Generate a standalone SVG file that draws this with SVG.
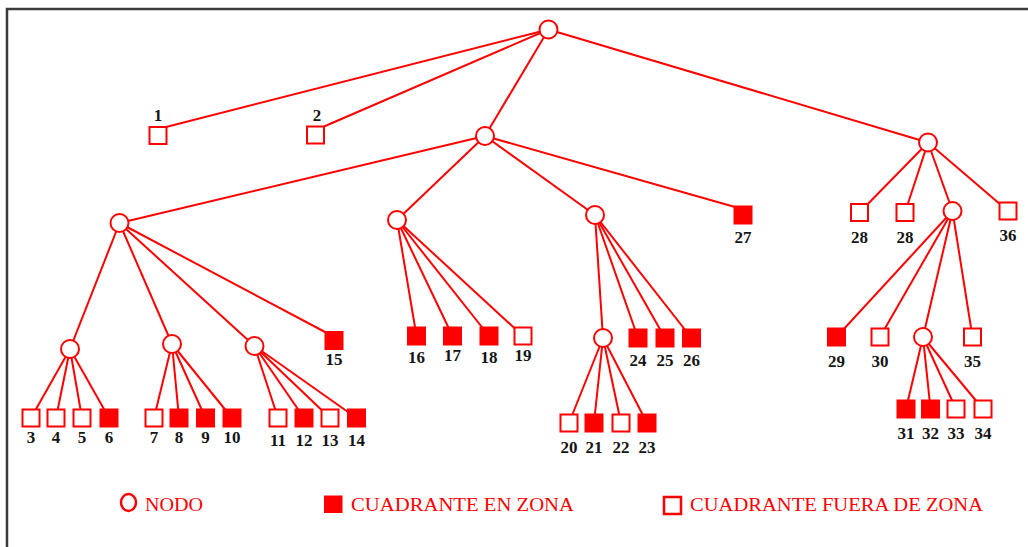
<svg xmlns="http://www.w3.org/2000/svg" width="1028" height="547" viewBox="0 0 1028 547">
  <style>
    .edge { stroke: #ff0000; stroke-width: 2; fill: none; }
    .node { fill: #ffffff; stroke: #ff0000; stroke-width: 2; }
    .in { fill: #ff0000; stroke: #ff0000; stroke-width: 2; }
    .out { fill: #ffffff; stroke: #ff0000; stroke-width: 2; }
    .lbl { font-family: "Liberation Serif", "Times New Roman", serif; font-weight: bold; font-size: 17px; text-anchor: middle; fill: #151515; }
    .key { font-family: "Liberation Serif", "Times New Roman", serif; font-size: 18px; fill: #ff0000; }
  </style>

  <rect x="0" y="0" width="1028" height="547" fill="#ffffff"/>
  <!-- frame -->
  <path d="M7 547 V9 H1028" fill="none" stroke="#3c3c3c" stroke-width="2.5"/>

  <!-- connectors -->
  <g id="connectors">
    <!-- root -->
    <line class="edge" x1="548.5" y1="29.5" x2="166" y2="127"/>
    <line class="edge" x1="548.5" y1="29.5" x2="324" y2="126.5"/>
    <line class="edge" x1="548.5" y1="29.5" x2="485" y2="136"/>
    <line class="edge" x1="548.5" y1="29.5" x2="928" y2="142.5"/>
    <!-- A -->
    <line class="edge" x1="485" y1="136" x2="119.5" y2="223"/>
    <line class="edge" x1="485" y1="136" x2="397" y2="220"/>
    <line class="edge" x1="485" y1="136" x2="595" y2="215"/>
    <line class="edge" x1="485" y1="136" x2="735" y2="207"/>
    <!-- L1 -->
    <line class="edge" x1="119.5" y1="223" x2="70" y2="349"/>
    <line class="edge" x1="119.5" y1="223" x2="172" y2="344"/>
    <line class="edge" x1="119.5" y1="223" x2="254.5" y2="346"/>
    <line class="edge" x1="119.5" y1="223" x2="326" y2="332.5"/>
    <!-- L3a -->
    <line class="edge" x1="70" y1="349" x2="31" y2="418"/>
    <line class="edge" x1="70" y1="349" x2="56" y2="418"/>
    <line class="edge" x1="70" y1="349" x2="82" y2="418"/>
    <line class="edge" x1="70" y1="349" x2="109" y2="418"/>
    <!-- L3b -->
    <line class="edge" x1="172" y1="344" x2="154" y2="418"/>
    <line class="edge" x1="172" y1="344" x2="179" y2="418"/>
    <line class="edge" x1="172" y1="344" x2="205.5" y2="418"/>
    <line class="edge" x1="172" y1="344" x2="232" y2="418"/>
    <!-- L3c -->
    <line class="edge" x1="254.5" y1="346" x2="278" y2="418"/>
    <line class="edge" x1="254.5" y1="346" x2="304" y2="418"/>
    <line class="edge" x1="254.5" y1="346" x2="330" y2="418"/>
    <line class="edge" x1="254.5" y1="346" x2="356.5" y2="418"/>
    <!-- M1 -->
    <line class="edge" x1="397" y1="220" x2="416.5" y2="336"/>
    <line class="edge" x1="397" y1="220" x2="452.5" y2="336"/>
    <line class="edge" x1="397" y1="220" x2="489" y2="336"/>
    <line class="edge" x1="397" y1="220" x2="523" y2="336"/>
    <!-- M2 -->
    <line class="edge" x1="595" y1="215" x2="603" y2="338"/>
    <line class="edge" x1="595" y1="215" x2="638" y2="338"/>
    <line class="edge" x1="595" y1="215" x2="665" y2="338"/>
    <line class="edge" x1="595" y1="215" x2="691.5" y2="338"/>
    <!-- N -->
    <line class="edge" x1="603" y1="338" x2="569" y2="423"/>
    <line class="edge" x1="603" y1="338" x2="594" y2="423"/>
    <line class="edge" x1="603" y1="338" x2="621" y2="423"/>
    <line class="edge" x1="603" y1="338" x2="647" y2="423"/>
    <!-- R -->
    <line class="edge" x1="928" y1="142.5" x2="859.5" y2="212.5"/>
    <line class="edge" x1="928" y1="142.5" x2="905" y2="212.5"/>
    <line class="edge" x1="928" y1="142.5" x2="952.5" y2="211"/>
    <line class="edge" x1="928" y1="142.5" x2="1008" y2="211"/>
    <!-- R2 -->
    <line class="edge" x1="952.5" y1="211" x2="836.5" y2="337"/>
    <line class="edge" x1="952.5" y1="211" x2="880" y2="337"/>
    <line class="edge" x1="952.5" y1="211" x2="923" y2="337"/>
    <line class="edge" x1="952.5" y1="211" x2="972.5" y2="337"/>
    <!-- N2 -->
    <line class="edge" x1="923" y1="337" x2="906" y2="409"/>
    <line class="edge" x1="923" y1="337" x2="930.5" y2="409"/>
    <line class="edge" x1="923" y1="337" x2="956" y2="409"/>
    <line class="edge" x1="923" y1="337" x2="983" y2="409"/>
  </g>

  <!-- branch nodes -->
  <g id="n-root"><circle class="node" cx="548.5" cy="29.5" r="9"/></g>
  <g id="n-a"><circle class="node" cx="485" cy="136" r="9"/></g>
  <g id="n-r"><circle class="node" cx="928" cy="142.5" r="9"/></g>
  <g id="n-l1"><circle class="node" cx="119.5" cy="223" r="9"/></g>
  <g id="n-m1"><circle class="node" cx="397" cy="220" r="9"/></g>
  <g id="n-m2"><circle class="node" cx="595" cy="215" r="9"/></g>
  <g id="n-l3a"><circle class="node" cx="70" cy="349" r="9"/></g>
  <g id="n-l3b"><circle class="node" cx="172" cy="344" r="9"/></g>
  <g id="n-l3c"><circle class="node" cx="254.5" cy="346" r="9"/></g>
  <g id="n-n"><circle class="node" cx="603" cy="338" r="9"/></g>
  <g id="n-r2"><circle class="node" cx="952.5" cy="211" r="9"/></g>
  <g id="n-n2"><circle class="node" cx="923" cy="337" r="9"/></g>

  <!-- quadrants -->
  <g id="q1"><rect class="out" x="149.5" y="127" width="17" height="17"/><text class="lbl" x="158" y="121">1</text></g>
  <g id="q2"><rect class="out" x="307" y="126.5" width="17" height="17"/><text class="lbl" x="317" y="121">2</text></g>
  <g id="q3"><rect class="out" x="22.5" y="409.5" width="17" height="17"/><text class="lbl" x="31" y="443">3</text></g>
  <g id="q4"><rect class="out" x="47.5" y="409.5" width="17" height="17"/><text class="lbl" x="56" y="443">4</text></g>
  <g id="q5"><rect class="out" x="73.5" y="409.5" width="17" height="17"/><text class="lbl" x="82" y="443">5</text></g>
  <g id="q6"><rect class="in" x="100.5" y="409.5" width="17" height="17"/><text class="lbl" x="109" y="443">6</text></g>
  <g id="q7"><rect class="out" x="145.5" y="409.5" width="17" height="17"/><text class="lbl" x="154" y="443">7</text></g>
  <g id="q8"><rect class="in" x="170.5" y="409.5" width="17" height="17"/><text class="lbl" x="179" y="443">8</text></g>
  <g id="q9"><rect class="in" x="197" y="409.5" width="17" height="17"/><text class="lbl" x="205.5" y="443">9</text></g>
  <g id="q10"><rect class="in" x="223.5" y="409.5" width="17" height="17"/><text class="lbl" x="232" y="443">10</text></g>
  <g id="q11"><rect class="out" x="269.5" y="409.5" width="17" height="17"/><text class="lbl" x="278" y="446">11</text></g>
  <g id="q12"><rect class="in" x="295.5" y="409.5" width="17" height="17"/><text class="lbl" x="304" y="446">12</text></g>
  <g id="q13"><rect class="out" x="321.5" y="409.5" width="17" height="17"/><text class="lbl" x="330" y="446">13</text></g>
  <g id="q14"><rect class="in" x="348" y="409.5" width="17" height="17"/><text class="lbl" x="356.5" y="446">14</text></g>
  <g id="q15"><rect class="in" x="325.5" y="332" width="17" height="17"/><text class="lbl" x="334" y="365">15</text></g>
  <g id="q16"><rect class="in" x="408" y="327.5" width="17" height="17"/><text class="lbl" x="416.5" y="363">16</text></g>
  <g id="q17"><rect class="in" x="444" y="327.5" width="17" height="17"/><text class="lbl" x="452.5" y="361">17</text></g>
  <g id="q18"><rect class="in" x="480.5" y="327.5" width="17" height="17"/><text class="lbl" x="489" y="363">18</text></g>
  <g id="q19"><rect class="out" x="514.5" y="327.5" width="17" height="17"/><text class="lbl" x="523" y="361">19</text></g>
  <g id="q20"><rect class="out" x="560.5" y="414.5" width="17" height="17"/><text class="lbl" x="569" y="453">20</text></g>
  <g id="q21"><rect class="in" x="585.5" y="414.5" width="17" height="17"/><text class="lbl" x="594" y="453">21</text></g>
  <g id="q22"><rect class="out" x="612.5" y="414.5" width="17" height="17"/><text class="lbl" x="621" y="453">22</text></g>
  <g id="q23"><rect class="in" x="638.5" y="414.5" width="17" height="17"/><text class="lbl" x="647" y="453">23</text></g>
  <g id="q24"><rect class="in" x="629.5" y="329.5" width="17" height="17"/><text class="lbl" x="638" y="366">24</text></g>
  <g id="q25"><rect class="in" x="656.5" y="329.5" width="17" height="17"/><text class="lbl" x="665" y="366">25</text></g>
  <g id="q26"><rect class="in" x="683" y="329.5" width="17" height="17"/><text class="lbl" x="691.5" y="366">26</text></g>
  <g id="q27"><rect class="in" x="734.5" y="206.5" width="17" height="17"/><text class="lbl" x="743" y="243">27</text></g>
  <g id="q28a"><rect class="out" x="851" y="204" width="17" height="17"/><text class="lbl" x="859.5" y="243">28</text></g>
  <g id="q28b"><rect class="out" x="896.5" y="204" width="17" height="17"/><text class="lbl" x="905" y="243">28</text></g>
  <g id="q29"><rect class="in" x="828" y="328.5" width="17" height="17"/><text class="lbl" x="836.5" y="367">29</text></g>
  <g id="q30"><rect class="out" x="871.5" y="328.5" width="17" height="17"/><text class="lbl" x="880" y="367">30</text></g>
  <g id="q31"><rect class="in" x="897.5" y="400.5" width="17" height="17"/><text class="lbl" x="906" y="439">31</text></g>
  <g id="q32"><rect class="in" x="922" y="400.5" width="17" height="17"/><text class="lbl" x="930.5" y="439">32</text></g>
  <g id="q33"><rect class="out" x="947.5" y="400.5" width="17" height="17"/><text class="lbl" x="956" y="439">33</text></g>
  <g id="q34"><rect class="out" x="974.5" y="400.5" width="17" height="17"/><text class="lbl" x="983" y="439">34</text></g>
  <g id="q35"><rect class="out" x="964" y="328.5" width="17" height="17"/><text class="lbl" x="972.5" y="367">35</text></g>
  <g id="q36"><rect class="out" x="999.5" y="202.5" width="17" height="17"/><text class="lbl" x="1008" y="241">36</text></g>

  <!-- legend -->
  <g id="legend">
    <ellipse cx="128.5" cy="502.5" rx="7.5" ry="8.5" fill="#ffffff" stroke="#ff0000" stroke-width="2.5"/>
    <text class="key" x="145" y="511" textLength="58" lengthAdjust="spacingAndGlyphs">NODO</text>
    <rect x="324" y="495.5" width="18.5" height="17.5" fill="#ff0000"/>
    <text class="key" x="351" y="511" textLength="223" lengthAdjust="spacingAndGlyphs">CUADRANTE EN ZONA</text>
    <rect x="664" y="497" width="17" height="17" fill="#ffffff" stroke="#ff0000" stroke-width="2.5"/>
    <text class="key" x="690" y="511" textLength="293" lengthAdjust="spacingAndGlyphs">CUADRANTE FUERA DE ZONA</text>
  </g>
</svg>
